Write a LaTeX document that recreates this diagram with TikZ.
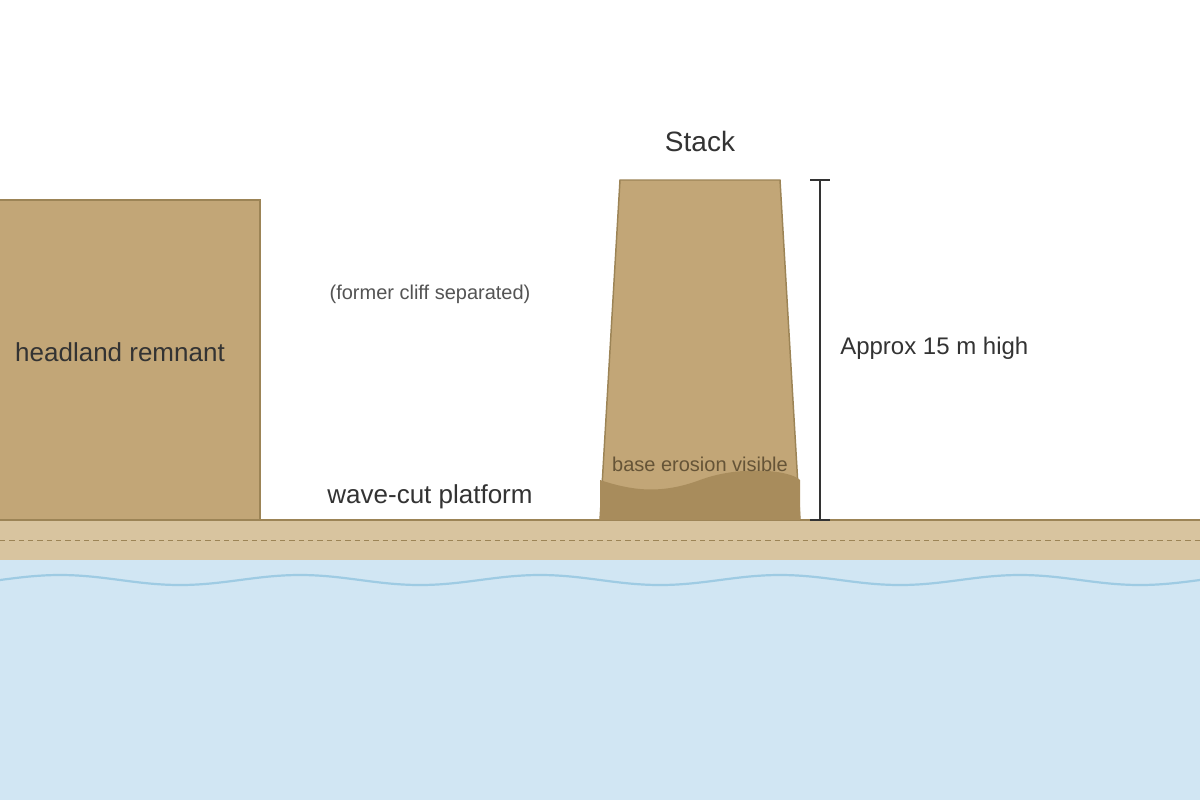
\documentclass[tikz,border=0pt]{standalone}
\usepackage{fontspec}
\setmainfont{Liberation Sans}
\definecolor{water}{HTML}{D1E6F3}
\definecolor{wave}{HTML}{9ECBE3}
\definecolor{plat}{HTML}{D8C49F}
\definecolor{rock}{HTML}{C2A677}
\definecolor{rockedge}{HTML}{9C8456}
\definecolor{erosion}{HTML}{A88C5C}
\definecolor{txt}{HTML}{333333}
\begin{document}
\begin{tikzpicture}[x=0.75pt,y=-0.75pt,
  lbl/.style={text=txt,font=\fontsize{19.5pt}{22pt}\selectfont,inner sep=0},
  small/.style={text=black!67,font=\fontsize{15pt}{17pt}\selectfont,inner sep=0}]
\fill[white] (0,0) rectangle (1200,800);
\useasboundingbox (0,0) rectangle (1200,800);
\fill[water] (0,560) rectangle (1200,800);
\draw[wave,line width=1.65pt] plot[domain=0:1200,samples=200,smooth] (\x,{580-5*cos(1.5*(\x-60))});
\fill[plat] (0,520) rectangle (1200,560);
\draw[rockedge,line width=1pt] (0,520) -- (1200,520);
\draw[rockedge,line width=0.75pt,dash pattern=on 4pt off 3pt] (0,540) -- (1200,540);
\draw[fill=rock,draw=rockedge,line width=1.1pt] (0,200) -- (260,200) -- (260,520) -- (0,520);
\draw[fill=rock,draw=rockedge,line width=1.1pt] (620,180) -- (780,180) -- (800,520) -- (600,520) -- cycle;
\fill[erosion] (600,480) .. controls (630,490) and (660,495) .. (700,480) .. controls (740,465) and (790,470) .. (800,480) -- (800,520) -- (600,520) -- cycle;
\draw[txt,line width=1.1pt] (820,180) -- (820,520) (810,180) -- (830,180) (810,520) -- (830,520);
\node[lbl,font=\fontsize{21pt}{24pt}\selectfont] (stack) at (700,141) {Stack};
\node[lbl] (head) at (120,352) {headland remnant};
\node[small] (former) at (430,294) {(former cliff separated)};
\node[lbl] (wcp) at (430,497) {wave-cut platform};
\node[small,text=erosion!60!black] (be) at (700,464) {base erosion visible};
\node[lbl,font=\fontsize{18pt}{21pt}\selectfont,anchor=west] (h) at (840,348) {Approx 15 m high};
\end{tikzpicture}
\end{document}
